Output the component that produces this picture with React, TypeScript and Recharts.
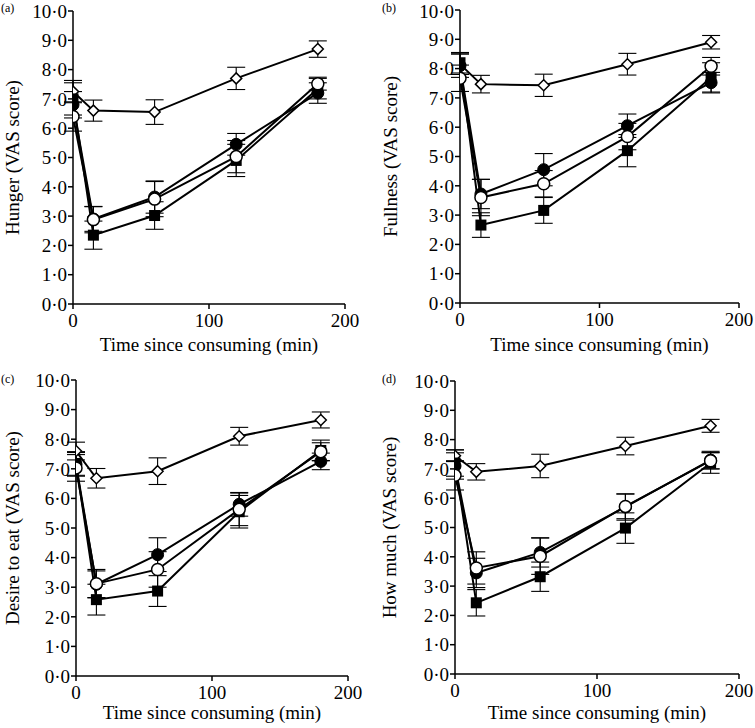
import React from "react";
import { LineChart, Line, XAxis, YAxis, ErrorBar, Label } from "recharts";

const times = [0, 15, 60, 120, 180];
const yTicks = [0, 1, 2, 3, 4, 5, 6, 7, 8, 9, 10];
const xTicks = [0, 100, 200];

// (a) Hunger
const hungerDiamond = [7.25, 6.6, 6.55, 7.7, 8.7];
const hungerDiamondSe = [0.38, 0.36, 0.42, 0.38, 0.28];
const hungerFilled = [6.8, 2.9, 3.65, 5.45, 7.2];
const hungerFilledSe = [0.45, 0.42, 0.55, 0.37, 0.35];
const hungerOpen = [6.4, 2.88, 3.58, 5.03, 7.52];
const hungerOpenSe = [0.5, 0.45, 0.6, 0.55, 0.22];
const hungerSquare = [7.0, 2.35, 3.02, 4.9, 7.35];
const hungerSquareSe = [0.55, 0.48, 0.47, 0.55, 0.35];

// (b) Fullness
const fullDiamond = [8.15, 7.47, 7.43, 8.15, 8.9];
const fullDiamondSe = [0.35, 0.3, 0.38, 0.37, 0.23];
const fullFilled = [8.1, 3.72, 4.55, 6.05, 7.52];
const fullFilledSe = [0.4, 0.5, 0.55, 0.4, 0.35];
const fullOpen = [7.67, 3.6, 4.07, 5.68, 8.08];
const fullOpenSe = [0.45, 0.62, 0.45, 0.45, 0.3];
const fullSquare = [8.2, 2.66, 3.16, 5.2, 7.7];
const fullSquareSe = [0.35, 0.42, 0.44, 0.55, 0.5];

// (c) Desire to eat
const desireDiamond = [7.6, 6.68, 6.92, 8.1, 8.65];
const desireDiamondSe = [0.3, 0.33, 0.45, 0.3, 0.27];
const desireFilled = [7.15, 3.1, 4.1, 5.8, 7.25];
const desireFilledSe = [0.4, 0.45, 0.57, 0.4, 0.28];
const desireOpen = [7.03, 3.12, 3.6, 5.63, 7.58];
const desireOpenSe = [0.45, 0.48, 0.6, 0.55, 0.3];
const desireSquare = [7.18, 2.58, 2.87, 5.55, 7.62];
const desireSquareSe = [0.4, 0.52, 0.52, 0.55, 0.35];

// (d) How much
const muchDiamond = [7.45, 6.9, 7.1, 7.78, 8.47];
const muchDiamondSe = [0.2, 0.28, 0.4, 0.3, 0.22];
const muchFilled = [7.1, 3.45, 4.15, 5.7, 7.3];
const muchFilledSe = [0.45, 0.5, 0.5, 0.45, 0.3];
const muchOpen = [6.78, 3.62, 4.02, 5.72, 7.28];
const muchOpenSe = [0.5, 0.55, 0.62, 0.42, 0.28];
const muchSquare = [7.2, 2.43, 3.32, 4.98, 7.2];
const muchSquareSe = [0.45, 0.45, 0.5, 0.52, 0.35];

const FONT = "Liberation Serif";
const tickStyle = { fontFamily: FONT, fontSize: 19, fill: "#000" };
const fmt = (v: number) => v.toFixed(1).replace(".", "·");

const diamondDot = (p: any) => {
  const { cx, cy, index } = p;
  if (cx == null || cy == null) return <g key={`d${index}`} />;
  const r = 5.5;
  return (
    <polygon key={`d${index}`} points={`${cx},${cy - r} ${cx + r},${cy} ${cx},${cy + r} ${cx - r},${cy}`}
      fill="#fff" stroke="#000" strokeWidth={1.5} />
  );
};
const filledDot = (p: any) => <circle key={`f${p.index}`} cx={p.cx} cy={p.cy} r={6} fill="#000" stroke="#000" />;
const openDot = (p: any) => <circle key={`o${p.index}`} cx={p.cx} cy={p.cy} r={6} fill="#fff" stroke="#000" strokeWidth={1.5} />;
const squareDot = (p: any) => <rect key={`s${p.index}`} x={p.cx - 5.5} y={p.cy - 5.5} width={11} height={11} fill="#000" />;

function build(d: number[], dE: number[], f: number[], fE: number[], o: number[], oE: number[], s: number[], sE: number[]) {
  return times.map((t, i) => ({ t, d: d[i], dE: dE[i], f: f[i], fE: fE[i], o: o[i], oE: oE[i], s: s[i], sE: sE[i] }));
}

function Panel({ left, top, width, height, margin, yWidth, xHeight, yLabel, labelOffset, titleOffset, letter, data }: any) {
  const line = (key: string, dot: any) => (
    <Line dataKey={key} stroke="#000" strokeWidth={2} dot={dot} activeDot={false} isAnimationActive={false} type="linear">
      <ErrorBar dataKey={key + "E"} width={9} stroke="#000" strokeWidth={1.1} direction="y" />
    </Line>
  );
  return (
    <div style={{ position: "absolute", left, top, width, height, fontFamily: FONT }}>
      <LineChart width={width} height={height} data={data} margin={margin} style={{ fontFamily: FONT }}>
        <XAxis dataKey="t" type="number" domain={[0, 200]} ticks={xTicks} tickSize={5} tickMargin={5}
          height={xHeight} stroke="#000" strokeWidth={1.5} tick={tickStyle} allowDataOverflow>
          <Label value="Time since consuming (min)" position="insideBottom" offset={titleOffset}
            style={{ fontFamily: FONT, fontSize: 19, fill: "#000" }} />
        </XAxis>
        <YAxis type="number" domain={[0, 10]} ticks={yTicks} tickFormatter={fmt} tickSize={5} tickMargin={1}
          width={yWidth} stroke="#000" strokeWidth={1.5} tick={tickStyle}>
          <Label value={yLabel} angle={-90} position="insideLeft" offset={labelOffset}
            style={{ fontFamily: FONT, fontSize: 19, fill: "#000", textAnchor: "middle" }} />
        </YAxis>
        {line("d", diamondDot)}
        {line("s", squareDot)}
        {line("f", filledDot)}
        {line("o", openDot)}
      </LineChart>
      <div style={{ position: "absolute", left: letter.x, top: letter.y, fontFamily: FONT, fontSize: 12, lineHeight: "12px" }}>
        {letter.text}
      </div>
    </div>
  );
}

export default function App() {
  return (
    <div style={{ position: "absolute", left: 0, top: 0, width: 755, height: 728, background: "#fff", fontFamily: FONT }}>
      <Panel left={0} top={0} width={377} height={364} margin={{ top: 11, right: 32, bottom: 0, left: 0 }}
        yWidth={73} xHeight={60} yLabel="Hunger (VAS score)" labelOffset={12} titleOffset={13}
        letter={{ x: 1, y: 2, text: "(a)" }}
        data={build(hungerDiamond, hungerDiamondSe, hungerFilled, hungerFilledSe, hungerOpen, hungerOpenSe, hungerSquare, hungerSquareSe)} />
      <Panel left={377} top={0} width={378} height={364} margin={{ top: 10, right: 16, bottom: 0, left: 0 }}
        yWidth={83} xHeight={61} yLabel="Fullness (VAS score)" labelOffset={13} titleOffset={13}
        letter={{ x: 5, y: 2, text: "(b)" }}
        data={build(fullDiamond, fullDiamondSe, fullFilled, fullFilledSe, fullOpen, fullOpenSe, fullSquare, fullSquareSe)} />
      <Panel left={0} top={364} width={377} height={364} margin={{ top: 16, right: 29, bottom: 0, left: 0 }}
        yWidth={76} xHeight={52} yLabel="Desire to eat (VAS score)" labelOffset={12} titleOffset={9}
        letter={{ x: 1, y: 9, text: "(c)" }}
        data={build(desireDiamond, desireDiamondSe, desireFilled, desireFilledSe, desireOpen, desireOpenSe, desireSquare, desireSquareSe)} />
      <Panel left={377} top={364} width={378} height={364} margin={{ top: 17, right: 16, bottom: 0, left: 0 }}
        yWidth={78} xHeight={54} yLabel="How much (VAS score)" labelOffset={12} titleOffset={9}
        letter={{ x: 5, y: 9, text: "(d)" }}
        data={build(muchDiamond, muchDiamondSe, muchFilled, muchFilledSe, muchOpen, muchOpenSe, muchSquare, muchSquareSe)} />
    </div>
  );
}
